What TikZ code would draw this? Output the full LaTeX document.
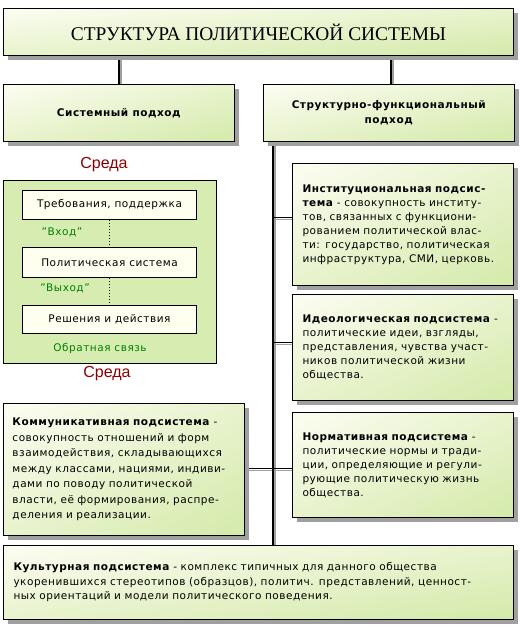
\documentclass[tikz,border=0pt]{standalone}
\usepackage{fontspec}
\setmainfont{DejaVu Sans}[LetterSpace=5]
\newfontfamily\titlefont{Liberation Serif}
\newfontfamily\sredafont{Liberation Sans}
\usetikzlibrary{shadows,shadings,calc}
\definecolor{gA}{RGB}{252,253,242}
\definecolor{gM}{RGB}{232,243,205}
\definecolor{gB}{RGB}{212,234,170}
\definecolor{envg}{RGB}{214,236,176}
\definecolor{cream}{RGB}{255,255,240}
\definecolor{sredared}{RGB}{139,0,0}
\definecolor{lblgreen}{RGB}{0,128,0}
\definecolor{shd}{RGB}{160,160,160}
\newcommand\jl[1]{\makebox[\hsize][s]{#1}}
\pgfdeclarelayer{bg}
\pgfsetlayers{bg,main}
\tikzset{
  gbox/.style={draw=black, line width=1pt, anchor=north west, inner sep=0pt,
    upper left=gA, upper right=gM, lower left=gM, lower right=gB,
    drop shadow={shadow xshift=4pt, shadow yshift=-4pt, fill=shd, opacity=1},
    font=\fontsize{10.5pt}{14pt}\selectfont},
  ibox/.style={draw=black, line width=1pt, anchor=north west, inner sep=0pt,
    fill=cream, minimum width=174pt, font=\fontsize{10.5pt}{12pt}\selectfont},
  txt/.style={align=left, inner xsep=10pt},
  sreda/.style={text=sredared, font=\sredafont\fontsize{16pt}{18pt}\selectfont},
  lbl/.style={text=lblgreen, font=\fontsize{10.5pt}{12pt}\selectfont},
  conn/.style={draw=black, line width=1pt},
  thick conn/.style={draw=black, line width=2pt},
  cshadow/.style={draw=shd, transform canvas={shift={(2pt,-2pt)}}},
}
\begin{document}
\begin{tikzpicture}[x=1pt, y=-1pt]
\useasboundingbox (0,0) rectangle (520,630);

% title
\node[gbox, minimum width=510pt, minimum height=47pt, font=\titlefont\fontsize{19.4pt}{21pt}\selectfont] (title) at (3,8) {СТРУКТУРА ПОЛИТИЧЕСКОЙ СИСТЕМЫ};

% approaches
\node[gbox, minimum width=231pt, minimum height=57pt] (sys) at (3,84) {\textbf{Системный подход}};
\node[gbox, minimum width=251pt, minimum height=57pt, align=center, font=\fontsize{10.5pt}{15pt}\selectfont] (struct) at (263,84) {\textbf{Структурно-функциональный}\\\textbf{подход}};

% environment (systems approach)
\node[sreda] (sreda1) at (104,165) {Среда};
\node[draw=black, line width=1pt, fill=envg, anchor=north west, minimum width=213pt, minimum height=183pt, inner sep=0pt] (env) at (3,180) {};
\node[ibox, minimum height=29pt] (tb) at (22,190) {Требования, поддержка};
\node[ibox, minimum height=30pt] (ps) at (22,247) {Политическая система};
\node[ibox, minimum height=28pt] (rd) at (22,305) {Решения и действия};
\node[lbl] (vhod) at (62,232) {"Вход"};
\node[lbl] (vyhod) at (65,288) {"Выход"};
\node[lbl] (obr) at (100,349) {Обратная связь};
\node[sreda] (sreda2) at (107,374) {Среда};

% subsystems
\node[gbox, txt, text width=201pt, minimum height=122pt] (inst) at (292,163) {%
\jl{\textbf{Институциональная подсис-}}\\
\jl{\textbf{тема} - совокупность институ-}\\
\jl{тов, связанных с функциони-}\\
\jl{рованием политической влас-}\\
\jl{ти: государство, политическая}\\
инфраструктура, СМИ, церковь.};

\node[gbox, txt, text width=201pt, minimum height=106pt] (ideo) at (292,294) {%
\jl{\textbf{Идеологическая подсистема} -}\\
\jl{политические идеи, взгляды,}\\
\jl{представления, чувства участ-}\\
\jl{ников политической жизни}\\
общества.};

\node[gbox, txt, text width=201pt, minimum height=105pt] (norm) at (292,412) {%
\jl{\textbf{Нормативная подсистема} -}\\
\jl{политические нормы и тради-}\\
\jl{ции, определяющие и регули-}\\
\jl{рующие политическую жизнь}\\
общества.};

\node[gbox, align=left, inner xsep=9pt, text width=223pt, minimum height=132pt, font=\fontsize{10.5pt}{15.5pt}\selectfont] (comm) at (3,403) {%
\jl{\textbf{Коммуникативная подсистема} -}\\
\jl{совокупность отношений и форм}\\
\jl{взаимодействия, складывающихся}\\
\jl{между классами, нациями, индиви-}\\
\jl{дами по поводу политической}\\
\jl{власти, её формирования, распре-}\\
деления и реализации.};

\node[gbox, txt, text width=490pt, minimum height=74pt, font=\fontsize{10.5pt}{14.5pt}\selectfont] (cult) at (3,545) {%
\jl{\textbf{Культурная подсистема} - комплекс типичных для данного общества}\\
\jl{укоренившихся стереотипов (образцов), политич. представлений, ценност-}\\
ных ориентаций и модели политического поведения.};

% connectors
\coordinate (trunk) at ($(struct.south west)+(10,0)$);
\coordinate (sn) at ($(struct.north)+(2,0)$);
\coordinate (iy) at (0,217);
\coordinate (dy) at (0,342);
\coordinate (cy) at (0,468);
\begin{pgfonlayer}{bg}
  \foreach \s in {cshadow, black} {
    \draw[thick conn, \s] (title.south -| sys.north) -- (sys.north);
    \draw[thick conn, \s] (title.south -| sn) -- (sn);
    \draw[thick conn, \s] (trunk) -- (trunk |- cult.north);
    \draw[conn, \s] (trunk |- iy) -- (inst.west |- iy);
    \draw[conn, \s] (trunk |- dy) -- (ideo.west |- dy);
    \draw[conn, \s] (comm.east |- cy) -- (norm.west |- cy);
  }
\end{pgfonlayer}
\draw[dotted, line width=1pt] (tb.south -| 109,0) -- (ps.north -| 109,0);
\draw[dotted, line width=1pt] (ps.south -| 109,0) -- (rd.north -| 109,0);
\end{tikzpicture}
\end{document}
